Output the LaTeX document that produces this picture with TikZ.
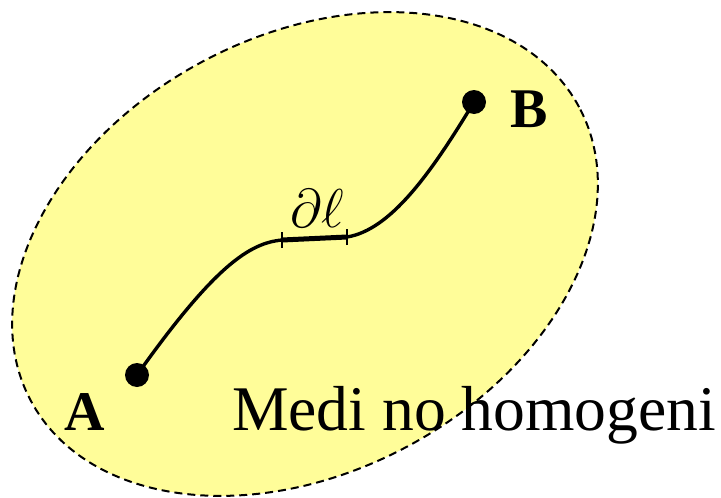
\documentclass[tikz,border=0pt]{standalone}
\usepackage{fontspec}
\setmainfont{Liberation Serif}
\definecolor{medium}{RGB}{255,253,153}
\begin{document}
\begin{tikzpicture}[x=1pt,y=-1pt,
  region/.style={fill=medium,draw=black,line width=2pt,dash pattern=on 8pt off 5pt},
  dot/.style={circle,fill=black,inner sep=0pt,minimum size=24pt},
  pathline/.style={line width=3.4pt},
  seg/.style={line width=5pt},
  tick/.style={line width=1.5pt},
  ptlabel/.style={font=\fontsize{56}{60}\selectfont\bfseries,inner sep=0pt},
  medlabel/.style={font=\fontsize{63.6}{66}\selectfont,inner sep=0pt}]
\useasboundingbox (0,0) rectangle (721,498);
\draw[region,rotate around={28.2:(305,254)}] (305,254) ellipse [x radius=311pt, y radius=218pt];
\node[dot] (A) at (137,375) {};
\node[dot] (B) at (474,102) {};
\coordinate (T1) at (282,240);
\coordinate (T2) at (347,237);
\draw[pathline] (A.center) .. controls (215,265) and (250,243) .. (T1);
\draw[seg] (T1) -- (T2);
\draw[pathline] (T2) .. controls (390,230) and (430,175) .. (B.center);
\draw[tick] ([yshift=-8pt]T1) -- ([yshift=8pt]T1);
\draw[tick] ([yshift=-8pt]T2) -- ([yshift=8pt]T2);
\node[inner sep=0pt,anchor=base] (dl) at (317,227) {\scalebox{2.2}{\Huge$\partial\ell$}};
\node[ptlabel,anchor=base west] (lA) at (64,430) {A};
\node[ptlabel,anchor=base west] (lB) at (510,127) {B};
\node[medlabel,anchor=base west] (med) at (232,430) {Medi no homogeni};
\end{tikzpicture}
\end{document}
